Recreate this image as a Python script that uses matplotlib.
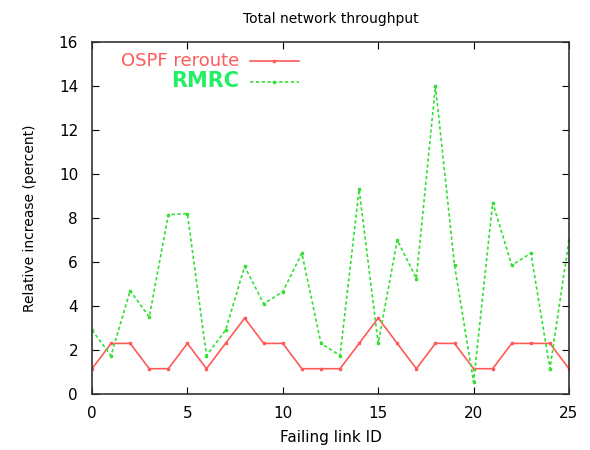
import matplotlib.pyplot as plt
import numpy as np

link_ids = np.arange(26)
ospf_reroute = [1.15, 2.3, 2.3, 1.15, 1.15, 2.3, 1.15, 2.3, 3.45, 2.3, 2.3, 1.15, 1.15,
                1.15, 2.3, 3.45, 2.3, 1.15, 2.3, 2.3, 1.15, 1.15, 2.3, 2.3, 2.3, 1.15]
rmrc = [2.9, 1.75, 4.7, 3.5, 8.15, 8.2, 1.75, 2.9, 5.8, 4.1, 4.65, 6.4, 2.3,
        1.75, 9.3, 2.3, 7.0, 5.25, 14.0, 5.85, 0.55, 8.7, 5.85, 6.4, 1.15, 7.0]

fig = plt.figure(figsize=(5.9, 4.5), dpi=100)
ax = fig.add_axes([92 / 590, 1 - 394 / 450, 477 / 590, 352 / 450])

ax.plot(link_ids, ospf_reroute, color="#ff5a5a", lw=1.2, marker="s", ms=1.8,
        label="OSPF reroute")
ax.plot(link_ids, rmrc, color="#33e033", lw=1.2, ls=(0, (2, 1.5)), marker="s", ms=1.8,
        label="RMRC")

ax.set_xlim(0, 25)
ax.set_ylim(0, 16)
ax.set_xticks(range(0, 26, 5))
ax.set_yticks(range(0, 17, 2))
ax.tick_params(direction="in", top=True, right=True, labelsize=11, length=5)
ax.tick_params(axis="x", pad=9)
ax.tick_params(axis="y", pad=10)
for side in ax.spines.values():
    side.set_linewidth(1.2)
    side.set_color("#333333")

ax.set_title("Total network throughput", fontsize=10, pad=14)
ax.set_xlabel("Failing link ID", fontsize=11, labelpad=6)
ax.set_ylabel("Relative increase (percent)", fontsize=10, labelpad=16)

leg = ax.legend(loc="upper left", bbox_to_anchor=(0.04, 1.0), frameon=False,
                markerfirst=False, handlelength=3.5, labelspacing=0.1,
                borderaxespad=0.3)
texts = leg.get_texts()
texts[0].set_color("#ff5a5a")
texts[0].set_fontsize(13)
texts[1].set_color("#22ee66")
texts[1].set_fontsize(15)
texts[1].set_fontweight("bold")
for t in texts:
    t.set_ha("right")

fig.savefig("out.png")
